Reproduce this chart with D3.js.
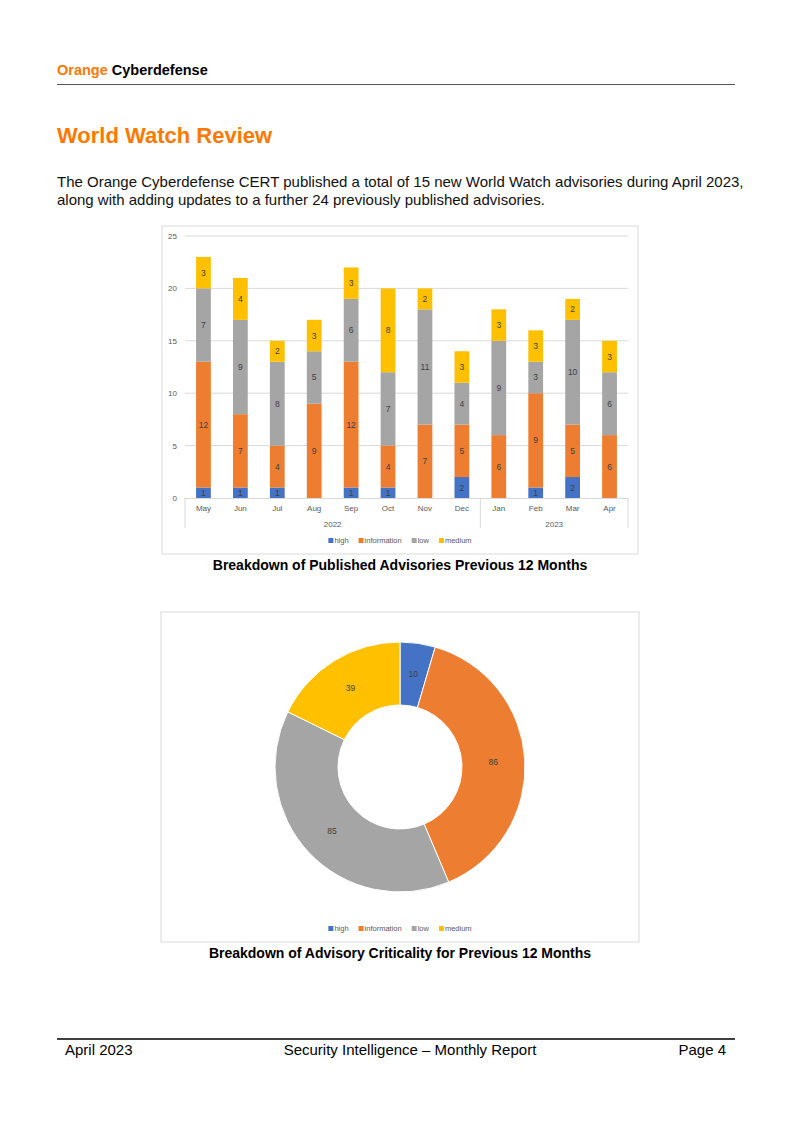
<!DOCTYPE html>
<html lang="en">
<head>
<meta charset="UTF-8" />
<title>World Watch Review</title>
<script src="https://d3js.org/d3.v7.min.js"></script>
<style>
  body { margin: 0; background: #fff; }
  svg { display: block; font-family: "Liberation Sans", Arial, sans-serif; }
  .chart-text { font-family: "Liberation Sans", Arial, sans-serif; fill: #595959; }
</style>
</head>
<body>
<div class="page"></div>
<script>
  // data
  const months = ["May", "Jun", "Jul", "Aug", "Sep", "Oct", "Nov", "Dec", "Jan", "Feb", "Mar", "Apr"];
  const years = [{ label: "2022", from: "May", to: "Dec" }, { label: "2023", from: "Jan", to: "Apr" }];
  const severities = ["high", "information", "low", "medium"];
  const high = [1, 1, 1, 0, 1, 1, 0, 2, 0, 1, 2, 0];
  const information = [12, 7, 4, 9, 12, 4, 7, 5, 6, 9, 5, 6];
  const low = [7, 9, 8, 5, 6, 7, 11, 4, 9, 3, 10, 6];
  const medium = [3, 4, 2, 3, 3, 8, 2, 3, 3, 3, 2, 3];
  const yTicks = [0, 5, 10, 15, 20, 25];
  const totals = [10, 86, 85, 39];

  const colors = { high: "#4472C4", information: "#ED7D31", low: "#A5A5A5", medium: "#FFC000" };
  const orange = "#FF7900";

  let svg = d3.select(".page").append("svg")
    .attr("width", 800)
    .attr("height", 1132);

  // ---- page header / text ----
  let head = svg.append("text").attr("x", 57).attr("y", 75)
    .attr("font-size", 14.5).attr("font-weight", "bold");
  head.append("tspan").attr("fill", orange).text("Orange ");
  head.append("tspan").attr("fill", "#000").text("Cyberdefense");
  svg.append("line").attr("x1", 57).attr("x2", 735).attr("y1", 84.5).attr("y2", 84.5)
    .attr("stroke", "#555").attr("stroke-width", 1);

  svg.append("text").attr("x", 57).attr("y", 143)
    .attr("font-size", 22).attr("font-weight", "bold").attr("fill", orange)
    .text("World Watch Review");

  const para = [
    "The Orange Cyberdefense CERT published a total of 15 new World Watch advisories during April 2023,",
    "along with adding updates to a further 24 previously published advisories."
  ];
  svg.selectAll(".para").data(para).enter().append("text")
    .attr("class", "para")
    .attr("x", 57)
    .attr("y", (d, i) => 187 + i * 18)
    .attr("font-size", 15)
    .attr("fill", "#111")
    .text(d => d);

  // ---- stacked bar chart ----
  svg.append("rect").attr("x", 162).attr("y", 226).attr("width", 476).attr("height", 328)
    .attr("fill", "#fff").attr("stroke", "#D9D9D9");

  const series = { high, information, low, medium };
  const rows = months.map((m, i) => {
    let r = { month: m };
    severities.forEach(s => r[s] = series[s][i]);
    return r;
  });
  const stacked = d3.stack().keys(severities)(rows);

  let x = d3.scaleBand().domain(months).range([185, 628]).paddingInner(0.6).paddingOuter(0.3);
  let y = d3.scaleLinear().domain([0, 25]).range([498, 236]);

  let grid = svg.append("g");
  grid.selectAll("line").data(yTicks.filter(t => t > 0)).enter().append("line")
    .attr("x1", 185).attr("x2", 628)
    .attr("y1", d => y(d)).attr("y2", d => y(d))
    .attr("stroke", "#D9D9D9").attr("stroke-width", 1);

  svg.append("g").selectAll("text").data(yTicks).enter().append("text")
    .attr("class", "chart-text")
    .attr("x", 177).attr("y", d => y(d) + 3)
    .attr("text-anchor", "end").attr("font-size", 8)
    .text(d => d);

  let layers = svg.append("g").selectAll("g").data(stacked).enter().append("g")
    .attr("fill", d => colors[d.key]);
  layers.selectAll("rect").data(d => d).enter().append("rect")
    .attr("x", d => x(d.data.month))
    .attr("width", x.bandwidth())
    .attr("y", d => y(d[1]))
    .attr("height", d => y(d[0]) - y(d[1]));

  let labels = svg.append("g");
  stacked.forEach(layer => {
    labels.selectAll(".l-" + layer.key).data(layer.filter(d => d[1] - d[0] > 0)).enter().append("text")
      .attr("class", "chart-text l-" + layer.key)
      .attr("x", d => x(d.data.month) + x.bandwidth() / 2)
      .attr("y", d => (y(d[0]) + y(d[1])) / 2 + 3)
      .attr("text-anchor", "middle").attr("font-size", 8.5)
      .style("fill", "#404040")
      .text(d => d[1] - d[0]);
  });

  // category axis (months + years)
  let axis = svg.append("g");
  axis.append("line").attr("x1", 185).attr("x2", 628).attr("y1", 498.5).attr("y2", 498.5)
    .attr("stroke", "#D9D9D9");
  const seps = [185, x("Jan") - x.step() * x.paddingInner() / 2, 628];
  axis.selectAll(".sep").data(seps).enter().append("line")
    .attr("class", "sep")
    .attr("x1", d => d).attr("x2", d => d).attr("y1", 498).attr("y2", 528)
    .attr("stroke", "#D9D9D9");
  axis.selectAll(".mon").data(months).enter().append("text")
    .attr("class", "chart-text mon")
    .attr("x", d => x(d) + x.bandwidth() / 2).attr("y", 511)
    .attr("text-anchor", "middle").attr("font-size", 8)
    .text(d => d);
  axis.selectAll(".yr").data(years).enter().append("text")
    .attr("class", "chart-text yr")
    .attr("x", d => (x(d.from) + x(d.to) + x.bandwidth()) / 2).attr("y", 527)
    .attr("text-anchor", "middle").attr("font-size", 8)
    .text(d => d.label);

  function legend(cy) {
    let g = svg.append("g");
    let items = g.selectAll("g").data(severities).enter().append("g");
    items.append("rect").attr("width", 5).attr("height", 5).attr("y", cy - 3)
      .attr("fill", d => colors[d]);
    items.append("text").attr("class", "chart-text").attr("x", 6).attr("y", cy + 2)
      .attr("font-size", 7.5).text(d => d);
    let widths = items.nodes().map(n => d3.select(n).select("text").node().getComputedTextLength() + 6);
    let total = d3.sum(widths) + 10 * (widths.length - 1);
    let pos = 400 - total / 2;
    items.attr("transform", (d, i) => {
      let t = `translate(${pos},0)`;
      pos += widths[i] + 10;
      return t;
    });
  }
  legend(541);

  svg.append("text").attr("x", 400).attr("y", 570)
    .attr("text-anchor", "middle").attr("font-size", 14).attr("font-weight", "bold")
    .attr("fill", "#000")
    .text("Breakdown of Published Advisories Previous 12 Months");

  // ---- donut chart ----
  svg.append("rect").attr("x", 161).attr("y", 612).attr("width", 478).attr("height", 330)
    .attr("fill", "#fff").attr("stroke", "#D9D9D9");

  const pie = d3.pie().sort(null).value(d => d.value);
  const slices = pie(severities.map((s, i) => ({ key: s, value: totals[i] })));
  const arc = d3.arc().innerRadius(62).outerRadius(125);

  let donut = svg.append("g").attr("transform", "translate(400,767)");
  donut.selectAll("path").data(slices).enter().append("path")
    .attr("d", arc)
    .attr("fill", d => colors[d.data.key])
    .attr("stroke", "#fff").attr("stroke-width", 1);
  donut.selectAll("text").data(slices).enter().append("text")
    .attr("class", "chart-text")
    .attr("transform", d => `translate(${arc.centroid(d)})`)
    .attr("dy", 3)
    .attr("text-anchor", "middle").attr("font-size", 8.5)
    .style("fill", "#404040")
    .text(d => d.data.value);

  legend(929);

  svg.append("text").attr("x", 400).attr("y", 958)
    .attr("text-anchor", "middle").attr("font-size", 14).attr("font-weight", "bold")
    .attr("fill", "#000")
    .text("Breakdown of Advisory Criticality for Previous 12 Months");

  // ---- footer ----
  svg.append("line").attr("x1", 57).attr("x2", 735).attr("y1", 1039).attr("y2", 1039)
    .attr("stroke", "#000").attr("stroke-width", 1.3);
  let foot = svg.append("g").attr("font-size", 15).attr("fill", "#000");
  foot.append("text").attr("x", 65).attr("y", 1055).text("April 2023");
  foot.append("text").attr("x", 410).attr("y", 1055).attr("text-anchor", "middle")
    .text("Security Intelligence \u2013 Monthly Report");
  foot.append("text").attr("x", 726).attr("y", 1055).attr("text-anchor", "end").text("Page 4");
</script>
</body>
</html>
